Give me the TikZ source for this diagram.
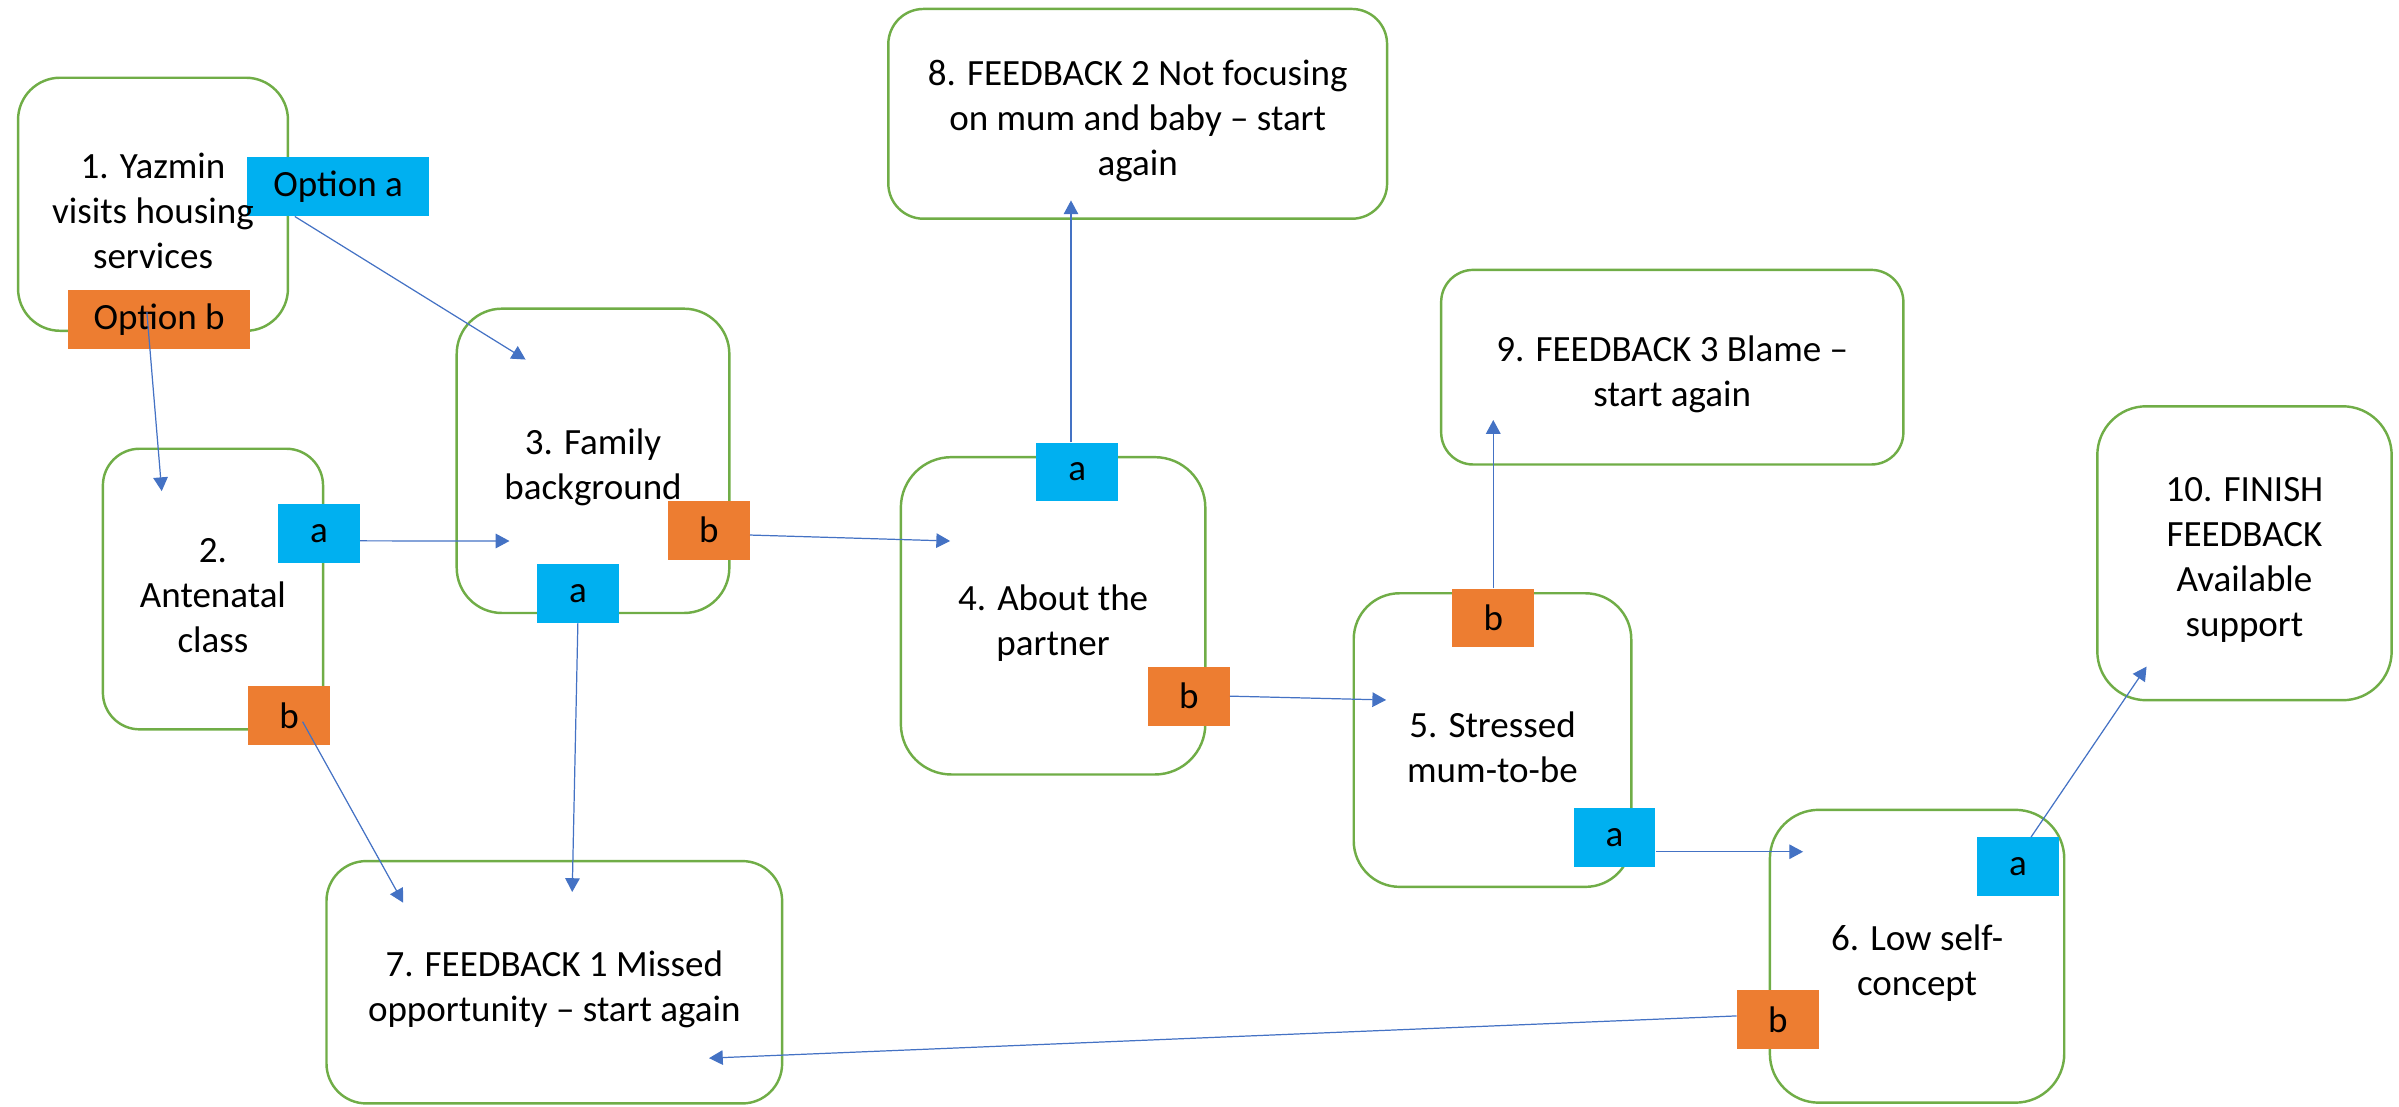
\documentclass[tikz,border=0pt]{standalone}
\usepackage{fontspec}
\setmainfont{Carlito}
\usetikzlibrary{arrows.meta,calc}
\pgfdeclarelayer{frames}
\pgfdeclarelayer{tags}
\pgfsetlayers{frames,tags,main}
\definecolor{stagegreen}{HTML}{70AD47}
\definecolor{tagblue}{HTML}{00B0F0}
\definecolor{tagorange}{HTML}{ED7D31}
\definecolor{linkblue}{HTML}{4472C4}
\begin{document}
\begin{tikzpicture}[x=1pt,y=-1pt,
  txt/.style={font={\fontsize{24.2}{29.4}\selectfont}},
  stage/.style={txt, align=center, inner sep=0pt},
  frame/.style={draw=stagegreen, line width=1.6pt},
  tag/.style={txt, inner sep=0pt, minimum width=53.4pt, minimum height=38.4pt},
  taga/.style={tag, fill=tagblue},
  tagb/.style={tag, fill=tagorange},
  opt/.style={minimum width=119pt, minimum height=38.6pt},
  link/.style={draw=linkblue, line width=0.8pt, -{Triangle[length=9pt,width=9.5pt]}}
]
\useasboundingbox (0,0) rectangle (1568,723);

% stage nodes (text); node centres sit 4.5 below the frame centres
\node[stage, minimum width=176pt, minimum height=165pt] (s1) at (100,138) {1. Yazmin\\visits housing\\services};
\node[stage, minimum width=143.5pt, minimum height=183pt] (s2) at (139.2,389.5) {2.\\Antenatal\\class};
\node[stage, minimum width=177.8pt, minimum height=198.5pt] (s3) at (387.6,305.7) {3. Family\\background};
\node[stage, minimum width=198.6pt, minimum height=207pt] (s4) at (688.3,407) {4. About the\\partner};
\node[stage, minimum width=181pt, minimum height=191.5pt] (s5) at (975.5,488.2) {5. Stressed\\mum-to-be};
\node[stage, minimum width=192pt, minimum height=191pt] (s6) at (1253,629.5) {6. Low self-\\concept};
\node[stage, minimum width=297.4pt, minimum height=158pt] (s7) at (362.3,646.5) {7. FEEDBACK 1 Missed\\opportunity – start again};
\node[stage, minimum width=325.6pt, minimum height=136.7pt] (s8) at (743.6,78.9) {8. FEEDBACK 2 Not focusing\\on mum and baby – start\\again};
\node[stage, minimum width=301.7pt, minimum height=126.8pt] (s9) at (1093,244.5) {9. FEEDBACK 3 Blame –\\start again};
\node[stage, minimum width=192pt, minimum height=191.7pt] (s10) at (1467,366.1) {10. FINISH\\FEEDBACK\\Available\\support};

% frames
\begin{pgfonlayer}{frames}
\foreach \n/\r in {s1/27.5, s2/24, s3/29.6, s4/33, s5/30, s6/32, s7/26, s8/23, s9/21, s10/32}
  \draw[frame, rounded corners=\r pt] ($(\n.north west)+(0,-4.5)$) rectangle ($(\n.south east)+(0,-4.5)$);
\end{pgfonlayer}

% option tags
\begin{pgfonlayer}{tags}
\node[taga, opt] (oa) at (221,122) {Option a};
\node[tagb, opt] (ob) at (104,208.8) {Option b};
\node[taga] (a2) at (208.5,348.5) {a};
\node[tagb] (b2) at (189,467.7) {b};
\node[tagb] (b3) at (463.3,346.5) {b};
\node[taga] (a3) at (377.7,387.8) {a};
\node[taga] (a4) at (704,308.5) {a};
\node[tagb] (b4) at (777,455) {b};
\node[tagb] (b5) at (976,404) {b};
\node[taga] (a5) at (1055.3,547.3) {a};
\node[taga] (a6) at (1319,566.5) {a};
\node[tagb] (b6) at (1162,666.5) {b};
\end{pgfonlayer}

% arrow end points
\coordinate (t1) at (343.5,235);
\coordinate (t2) at (105.7,321);
\coordinate (t3) at (333,353.6);
\coordinate (t4) at (621,353.6);
\coordinate (t5) at (374,583);
\coordinate (t6) at (263.5,590);
\coordinate (t7) at (700,131);
\coordinate (t8) at (906,457.5);
\coordinate (t9) at (976,274.5);
\coordinate (t10) at (1178.5,556.7);
\coordinate (t11) at (1403,435.7);
\coordinate (t12) at (463.4,691.6);

% connectors
\draw[link] ($(oa.south west)+(31.4,0)$) -- (t1);
\draw[link] ($(ob.center)+(-8,-4.8)$) -- (t2);
\draw[link] ($(a2.east)+(0,5)$) -- (t3);
\draw[link] ($(b3.east)+(0,3.2)$) -- (t4);
\draw[link] (a3.south) -- (t5);
\draw[link] ($(b2.center)+(8.8,4)$) -- (t6);
\draw[link] ($(a4.north)+(-4,0)$) -- (t7);
\draw[link] (b4.east) -- (t8);
\draw[link] (b5.north) -- (t9);
\draw[link] ($(a5.east)+(0,9.4)$) -- (t10);
\draw[link] ($(a6.north)+(8.5,0)$) -- (t11);
\draw[link] ($(b6.west)+(0,-2.5)$) -- (t12);
\end{tikzpicture}
\end{document}
